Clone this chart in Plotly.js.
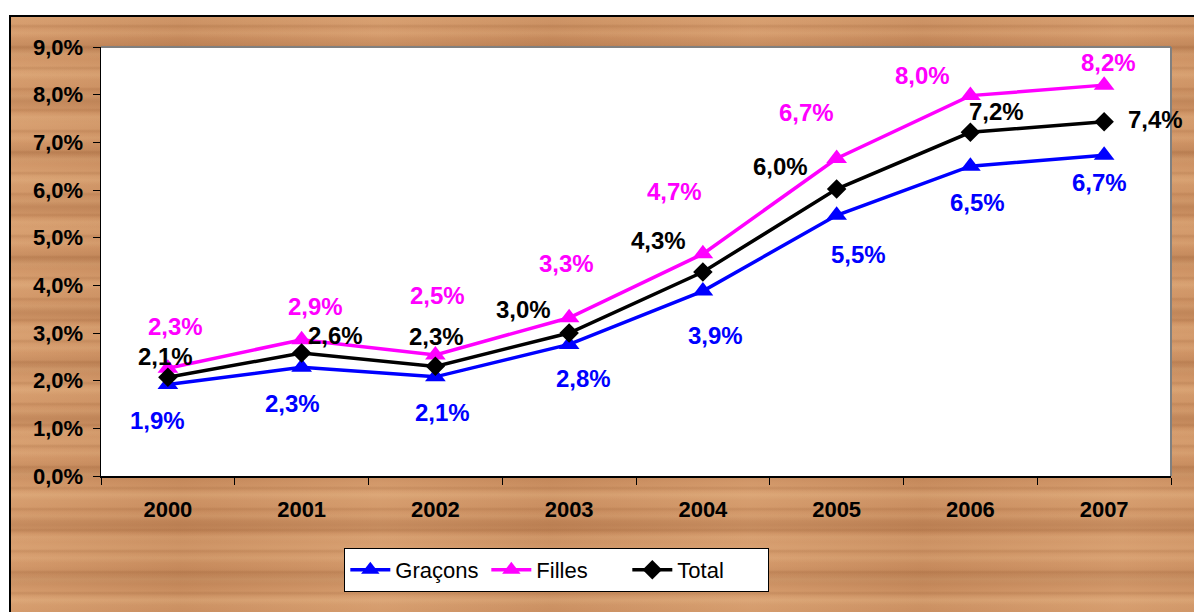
<!DOCTYPE html>
<html>
<head>
<meta charset="utf-8">
<script src="https://cdn.plot.ly/plotly-3.0.1.min.js"></script>
<style>
  html, body { margin:0; padding:0; background:#ffffff; }
  #wrap { position:relative; width:1194px; height:612px; overflow:hidden; }
  #wood {
    position:absolute; left:9px; top:15px; right:0; bottom:0;
    border-left:2px solid #000; border-top:2px solid #000;
    background-color:#cf9263;
    background-image:
      repeating-linear-gradient(180deg, rgba(120,60,20,0.00) 0px, rgba(120,60,20,0.00) 7px, rgba(120,60,20,0.14) 9px, rgba(120,60,20,0.00) 12px, rgba(255,220,170,0.12) 16px, rgba(120,60,20,0.00) 21px),
      repeating-linear-gradient(180deg, rgba(255,215,165,0.14) 0px, rgba(255,215,165,0.00) 19px, rgba(110,55,20,0.14) 31px, rgba(255,215,165,0.00) 41px, rgba(255,215,165,0.14) 53px),
      repeating-linear-gradient(90deg, rgba(255,230,190,0.07) 0px, rgba(90,40,10,0.07) 170px, rgba(255,230,190,0.07) 370px);
  }
  #chart { position:absolute; left:0; top:0; width:1194px; height:612px; }
</style>
</head>
<body>
<div id="wrap">
  <div id="wood"></div>
  <div id="chart"></div>
</div>
<script>
// ---- data (percent) ----
const years   = ['2000','2001','2002','2003','2004','2005','2006','2007'];
const garcons = [1.92, 2.28, 2.08, 2.76, 3.88, 5.47, 6.50, 6.73];
const filles  = [2.26, 2.86, 2.54, 3.32, 4.66, 6.66, 7.98, 8.20];
const total   = [2.07, 2.58, 2.30, 3.00, 4.28, 6.02, 7.21, 7.43];
const seriesNames = ['Graçons', 'Filles', 'Total'];
const yTicks = [0,1,2,3,4,5,6,7,8,9];

// ---- label offsets (pixels, style only) ----
const offG = [[-10,36],[-9,36],[7,36],[14,34],[13,44],[22,39],[7,36],[-5,27]];
const offF = [[8,-42],[14,-33],[2,-59],[-3,-54],[-28,-62],[-30,-46],[-48,-20],[4,-23]];
const offT = [[-2,-21],[34,-18],[1,-30],[-46,-24],[-44,-31],[-56,-23],[26,-21],[51,-2]];

const fontFam = 'Arial, "Liberation Sans", Helvetica, sans-serif';
const fmt = v => v.toFixed(1).replace('.', ',') + '%';
const xIdx = years.map((_, i) => i);
const xBounds = years.map((_, i) => i - 0.5).concat([years.length - 0.5]);

function trace(name, ys, color, symbol, size) {
  return {
    type:'scatter', mode:'lines+markers', name:name, x:xIdx, y:ys,
    line:{color:color, width:3.5},
    marker:{color:color, symbol:symbol, size:size},
    hoverinfo:'skip'
  };
}
const data = [
  trace(seriesNames[0], garcons, '#0000FF', 'triangle-up', 18),
  trace(seriesNames[1], filles,  '#FF00FF', 'triangle-up', 18),
  trace(seriesNames[2], total,   '#000000', 'diamond', 15)
];

const annotations = [];
function addLabels(ys, offs, color) {
  ys.forEach((v, i) => {
    annotations.push({
      x: xIdx[i], y: v, xref:'x', yref:'y', text: fmt(v), showarrow:false,
      xshift: offs[i][0], yshift: -offs[i][1],
      font:{family:fontFam, size:24, color:color, weight:'bold'}
    });
  });
}
addLabels(garcons, offG, '#0000FF');
addLabels(filles, offF, '#FF00FF');
addLabels(total, offT, '#000000');

const layout = {
  width:1194, height:612,
  margin:{l:101, r:23, t:47, b:136},
  paper_bgcolor:'rgba(0,0,0,0)',
  plot_bgcolor:'#FFFFFF',
  showlegend:true,
  legend:{
    orientation:'h', x:0.426, xanchor:'center', y:-0.168, yanchor:'top',
    bgcolor:'#FFFFFF', bordercolor:'#000000', borderwidth:1,
    font:{family:fontFam, size:22, color:'#000000'},
    itemwidth:40, tracegroupgap:0,
    entrywidth:86, entrywidthmode:'pixels'
  },
  xaxis:{
    type:'linear', range:[-0.5, years.length - 0.5],
    tickvals:xIdx, ticktext:years, ticks:'',
    minor:{tickvals:xBounds, ticks:'outside', ticklen:7, tickcolor:'#000', showgrid:false},
    showline:true, linecolor:'#000', linewidth:1.5, showgrid:false, zeroline:false,
    ticklabelstandoff:13,
    tickfont:{family:fontFam, size:22, color:'#000', weight:'bold'}
  },
  yaxis:{
    range:[0,9], tickvals:yTicks, ticktext:yTicks.map(fmt),
    ticks:'outside', ticklen:7, tickcolor:'#000',
    showline:true, linecolor:'#000', linewidth:1.5, showgrid:false, zeroline:false,
    ticklabelstandoff:5,
    tickfont:{family:fontFam, size:22, color:'#000', weight:'bold'}
  },
  shapes:[
    {type:'line', xref:'paper', yref:'paper', x0:0, x1:1, y0:1, y1:1, line:{color:'#808080', width:2}},
    {type:'line', xref:'paper', yref:'paper', x0:1, x1:1, y0:0, y1:1, line:{color:'#808080', width:2}}
  ],
  annotations: annotations
};

Plotly.newPlot('chart', data, layout, {displayModeBar:false, staticPlot:true});
</script>
</body>
</html>
